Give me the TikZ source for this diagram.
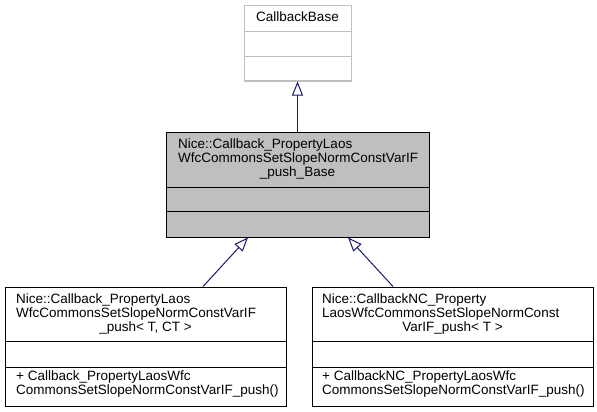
\documentclass[tikz,border=0pt]{standalone}
\usepackage{fontspec}
\setmainfont{Liberation Sans}
\usetikzlibrary{arrows.meta}

\definecolor{edgeblue}{HTML}{191970}
\definecolor{boxgray}{HTML}{BFBFBF}

\begin{document}
\begin{tikzpicture}[x=1pt,y=-1pt,
  font=\fontsize{13.5}{14}\selectfont,
  classbox/.style={draw,line width=1pt,inner sep=0pt},
  txt/.style={anchor=base,inner sep=0pt},
  txtl/.style={anchor=base west,inner sep=0pt},
  inherit/.style={draw=edgeblue,line width=1pt,-{Triangle[open,length=14pt,width=11pt]}}]

\useasboundingbox (0,0) rectangle (597,412);

% class boxes
\node[classbox,draw=boxgray,minimum width=107pt,minimum height=75pt] (base) at (297.5,43.5) {};
\node[classbox,fill=boxgray,minimum width=263pt,minimum height=105pt] (pushbase) at (297.5,184.5) {};
\node[classbox,minimum width=281pt,minimum height=119pt] (push) at (145.5,346.5) {};
\node[classbox,minimum width=281pt,minimum height=119pt] (pushnc) at (452.5,346.5) {};

% compartments
\draw[boxgray,line width=1pt] (244,32) -- (351,32);
\draw[boxgray,line width=1pt] (244,57) -- (351,57);
\draw[line width=1pt] (166,187) -- (429,187);
\draw[line width=1pt] (166,211) -- (429,211);
\draw[line width=1pt] (5,341) -- (286,341);
\draw[line width=1pt] (5,367) -- (286,367);
\draw[line width=1pt] (312,341) -- (593,341);
\draw[line width=1pt] (312,367) -- (593,367);

% texts
\node[txt] (t0) at (297.5,22) {CallbackBase};

\node[txtl] (t1) at (178,148) {Nice::Callback\_PropertyLaos};
\node[txtl] (t2) at (178,162) {WfcCommonsSetSlopeNormConstVarIF};
\node[txt] (t3) at (297.5,176) {\_push\_Base};

\node[txtl] (l1) at (16,303) {Nice::Callback\_PropertyLaos};
\node[txtl] (l2) at (16,317) {WfcCommonsSetSlopeNormConstVarIF};
\node[txt] (l3) at (145.5,331) {\_push< T, CT >};
\node[txtl] (l4) at (16,380) {+ Callback\_PropertyLaosWfc};
\node[txtl] (l5) at (16,394) {CommonsSetSlopeNormConstVarIF\_push()};

\node[txtl] (r1) at (322,303) {Nice::CallbackNC\_Property};
\node[txtl] (r2) at (322,317) {LaosWfcCommonsSetSlopeNormConst};
\node[txt] (r3) at (452.5,331) {VarIF\_push< T >};
\node[txtl] (r4) at (322,380) {+ CallbackNC\_PropertyLaosWfc};
\node[txtl] (r5) at (322,394) {CommonsSetSlopeNormConstVarIF\_push()};

% inheritance
\draw[inherit] (pushbase.north) -- (base.south);
\draw[inherit] ([xshift=57.5pt]push.north) -- ([xshift=-49.5pt]pushbase.south);
\draw[inherit] ([xshift=-59.5pt]pushnc.north) -- ([xshift=50.5pt]pushbase.south);

\end{tikzpicture}
\end{document}
